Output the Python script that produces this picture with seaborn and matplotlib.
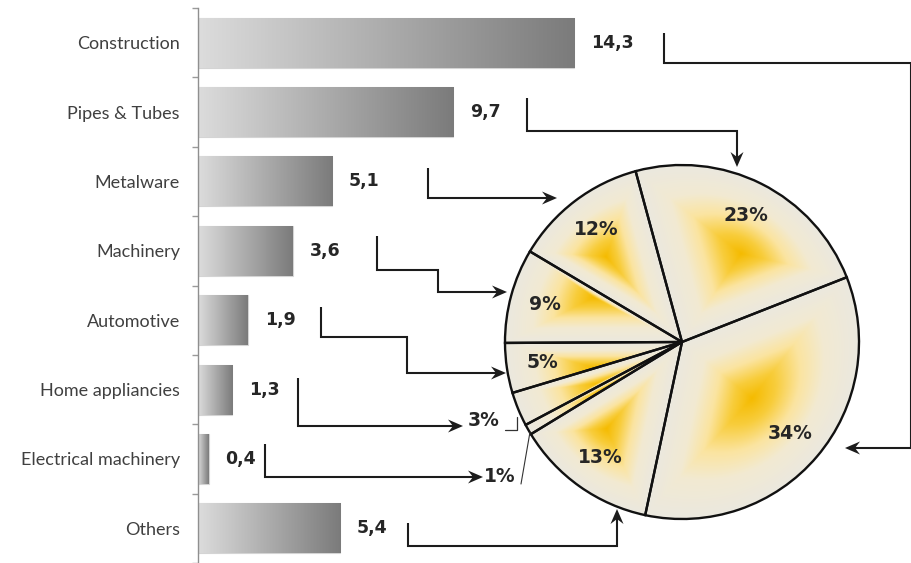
import numpy as np
import pandas as pd
import matplotlib
matplotlib.use('Agg')
import matplotlib.pyplot as plt
import seaborn as sns
from matplotlib.patches import Circle, Polygon
from matplotlib.colors import LinearSegmentedColormap

# data
categories = ['Construction', 'Pipes & Tubes', 'Metalware', 'Machinery',
              'Automotive', 'Home appliancies', 'Electrical machinery', 'Others']
values = [14.3, 9.7, 5.1, 3.6, 1.9, 1.3, 0.4, 5.4]
value_labels = ['14,3', '9,7', '5,1', '3,6', '1,9', '1,3', '0,4', '5,4']

W, H = 912, 563
sns.set_theme(style='white')
plt.rcParams['font.family'] = ['Lato', 'DejaVu Sans']
num_font = ['DejaVu Sans']

fig = plt.figure(figsize=(W / 100, H / 100), dpi=100)

# ---- horizontal bars ----
px_per_unit = 26.3
bar_left, bar_w = 198, 400
ax = fig.add_axes([bar_left / W, 0, bar_w / W, 555 / H])
df = pd.DataFrame({'sector': categories, 'value': values})
sns.barplot(data=df, x='value', y='sector', orient='h', width=0.72,
            color='grey', ax=ax)

bar_cmap = LinearSegmentedColormap.from_list('bar', ['#dcdcdc', '#7b7b7b'])
grad = np.linspace(0, 1, 256).reshape(1, -1)
for p in ax.patches:
    x0, y0, w, h = p.get_x(), p.get_y(), p.get_width(), p.get_height()
    p.set_facecolor('none')
    p.set_edgecolor('#d4d4d4')
    p.set_linewidth(0.8)
    ax.imshow(grad, cmap=bar_cmap, aspect='auto', interpolation='bilinear',
              extent=(x0, x0 + w, y0 + h, y0), zorder=1)

for i, (v, lab) in enumerate(zip(values, value_labels)):
    ax.text(v + 0.64, i, lab, va='center', ha='left', fontsize=12.5,
            fontweight='bold', color='#262626', family=num_font)

ax.set_xlim(0, bar_w / px_per_unit)
ax.set_ylim(len(categories) - 0.5, -0.5)
ax.set_xlabel('')
ax.set_ylabel('')
ax.set_xticks([])
for s in ['top', 'right', 'bottom']:
    ax.spines[s].set_visible(False)
ax.spines['left'].set_color('#8f8f8f')
ax.spines['left'].set_linewidth(1)
ax.set_yticks(np.arange(-0.5, len(categories), 1), minor=True)
ax.tick_params(axis='y', which='major', length=0, pad=13, labelsize=13,
               labelcolor='#404040')
ax.tick_params(axis='y', which='minor', left=True, length=4, width=1,
               color='#9a9a9a')
ax.patch.set_alpha(0)

# ---- pie ----
cx, cy, r = 682, 342, 177
pax = fig.add_axes([(cx - r) / W, (H - cy - r) / H, 2 * r / W, 2 * r / H])


def pct(p):
    return f'{p:.0f}%' if p > 4 else ''


wedges, texts, autotexts = pax.pie(
    values, startangle=258, counterclock=True, autopct=pct, pctdistance=0.8,
    wedgeprops=dict(facecolor='none', edgecolor='#111111', linewidth=1.7),
    textprops=dict(fontsize=13.5, fontweight='bold', color='#262626',
                   family=num_font))
for t in autotexts:
    t.set_zorder(5)

# path-style gradient inside each slice (yellow core -> beige rim)
n = 600
xs = np.linspace(-1, 1, n)
X, Y = np.meshgrid(xs, xs)
ang = np.degrees(np.arctan2(Y, X)) % 360
S = np.ones_like(X)
for w in wedges:
    t1, t2 = w.theta1, w.theta2
    inside = ((ang - t1) % 360) < (t2 - t1)
    pts = [(0.0, 0.0), (np.cos(np.radians(t1)), np.sin(np.radians(t1))),
           (np.cos(np.radians(t2)), np.sin(np.radians(t2)))]
    for k in range(0, 720, 90):
        if t1 < k < t2:
            pts.append((np.cos(np.radians(k)), np.sin(np.radians(k))))
    pts = np.array(pts)
    ccx = (pts[:, 0].min() + pts[:, 0].max()) / 2
    ccy = (pts[:, 1].min() + pts[:, 1].max()) / 2
    d1 = np.array([np.cos(np.radians(t1)), np.sin(np.radians(t1))])
    d2 = np.array([np.cos(np.radians(t2)), np.sin(np.radians(t2))])
    px, py = X - ccx, Y - ccy
    c1 = max(d1[0] * ccy - d1[1] * ccx, 1e-3)
    c2 = min(d2[0] * ccy - d2[1] * ccx, -1e-3)
    k1 = d1[0] * py - d1[1] * px
    k2 = d2[0] * py - d2[1] * px
    s1 = np.maximum(0, -k1 / c1)
    s2 = np.maximum(0, k2 / -c2)
    bb = px ** 2 + py ** 2
    ab = ccx * px + ccy * py
    aa = ccx ** 2 + ccy ** 2
    den = -ab + np.sqrt(np.maximum(ab ** 2 - bb * (aa - 1), 0))
    s3 = np.where(bb > 0, bb / np.maximum(den, 1e-9), 0)
    s = np.maximum(np.maximum(s1, s2), s3)
    S[inside] = s[inside]

pie_cmap = LinearSegmentedColormap.from_list(
    'pie', [(0, '#f5bb00'), (0.22, '#f8cd3c'), (0.45, '#fbe4a0'),
            (0.68, '#f2ead2'), (1, '#ebe8df')])
img = pie_cmap(np.clip(S, 0, 1))
im = pax.imshow(img, extent=(-1, 1, -1, 1), origin='lower',
                interpolation='bilinear', zorder=0)
im.set_clip_path(Circle((0, 0), 1, transform=pax.transData))
pax.set_xlim(-1, 1)
pax.set_ylim(-1, 1)
pax.set_aspect('auto')
pax.axis('off')

# ---- connectors (pixel space overlay) ----
ov = fig.add_axes([0, 0, 1, 1], zorder=5)
ov.set_xlim(0, W)
ov.set_ylim(H, 0)
ov.axis('off')
ov.patch.set_alpha(0)

connectors = [
    [(664, 33), (664, 63), (911, 63), (911, 448), (845, 448)],
    [(527, 98), (527, 131), (737, 131), (737, 167)],
    [(428, 168), (428, 198), (557, 198)],
    [(377, 236), (377, 270), (438, 270), (438, 292), (507, 292)],
    [(321, 307), (321, 337), (407, 337), (407, 373), (506, 373)],
    [(298, 378), (298, 426), (463, 426)],
    [(265, 444), (265, 477), (483, 477)],
    [(408, 523), (408, 546), (617, 546), (617, 509)],
]


def draw_arrow(pts, L=15, hw=6.5, notch=5):
    pts = np.array(pts, dtype=float)
    tip, prev = pts[-1], pts[-2]
    d = (tip - prev) / np.linalg.norm(tip - prev)
    perp = np.array([-d[1], d[0]])
    base = tip - d * L
    inner = tip - d * (L - notch)
    line = np.vstack([pts[:-1], inner])
    ov.plot(line[:, 0], line[:, 1], color='#1c1c1c', lw=1.5,
            solid_joinstyle='miter', solid_capstyle='butt')
    ov.add_patch(Polygon([tip, base + perp * hw, inner, base - perp * hw],
                         closed=True, facecolor='#1c1c1c', edgecolor='none'))


for c in connectors:
    draw_arrow(c)

ov.text(484, 421, '3%', ha='center', va='center', fontsize=13.5,
        fontweight='bold', color='#262626', family=num_font)
ov.plot([505, 517, 517], [430, 430, 417], color='#333333', lw=0.9)
ov.text(500, 477, '1%', ha='center', va='center', fontsize=13.5,
        fontweight='bold', color='#262626', family=num_font)
ov.plot([521, 530], [484, 432], color='#333333', lw=0.8)

fig.savefig('out.png', dpi=100)
